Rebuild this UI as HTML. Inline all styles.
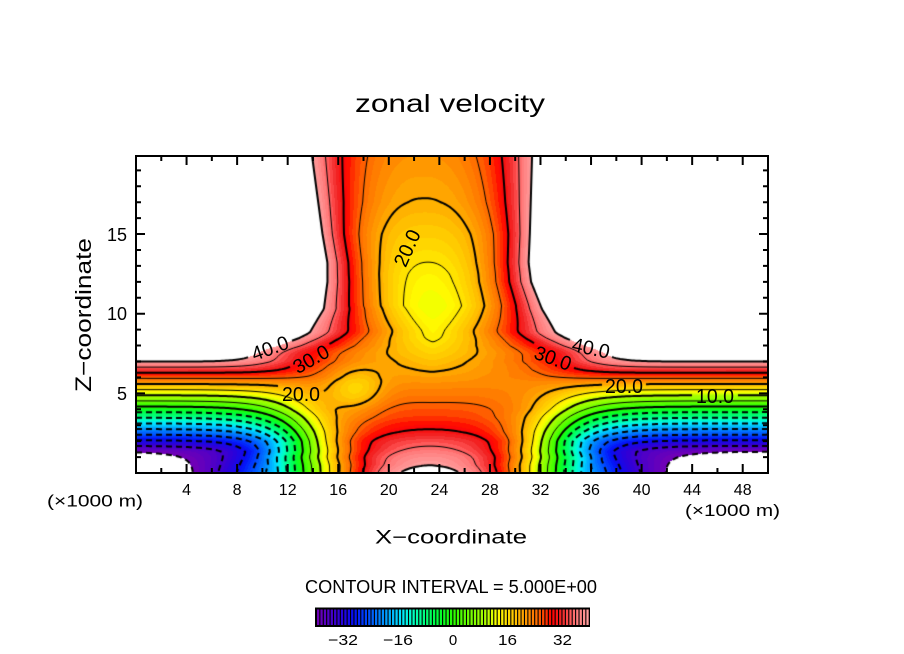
<!DOCTYPE html>
<html><head><meta charset="utf-8">
<style>
html,body{margin:0;padding:0;background:#fff;}
#wrap{position:relative;width:904px;height:654px;overflow:hidden;background:#fff;}
#c{position:absolute;left:136px;top:156px;}
#ov{position:absolute;left:0;top:0;}
text{font-family:"Liberation Sans",Arial,sans-serif;fill:#000;}
</style></head><body>
<div id="wrap">
<canvas id="c" width="632" height="317"></canvas>
<svg id="ov" width="904" height="654" xmlns="http://www.w3.org/2000/svg">
  <g id="cbar"></g>
  <rect x="136" y="156" width="632" height="317" fill="none" stroke="#000" stroke-width="2"/>
  <path id="ticks" d="" stroke="#000" stroke-width="2" fill="none"/>
  <g font-size="20">
    <text transform="translate(270,348) rotate(-20)" text-anchor="middle" dy="7" textLength="38" lengthAdjust="spacingAndGlyphs">40.0</text>
    <text transform="translate(311,359) rotate(-29)" text-anchor="middle" dy="7" textLength="38" lengthAdjust="spacingAndGlyphs">30.0</text>
    <text transform="translate(301,394)" text-anchor="middle" dy="7" textLength="38" lengthAdjust="spacingAndGlyphs">20.0</text>
    <text transform="translate(407,248) rotate(-66)" text-anchor="middle" dy="7" textLength="38" lengthAdjust="spacingAndGlyphs">20.0</text>
    <text transform="translate(553,358) rotate(20)" text-anchor="middle" dy="7" textLength="38" lengthAdjust="spacingAndGlyphs">30.0</text>
    <text transform="translate(591,348) rotate(12)" text-anchor="middle" dy="7" textLength="38" lengthAdjust="spacingAndGlyphs">40.0</text>
    <text transform="translate(624,386)" text-anchor="middle" dy="7" textLength="38" lengthAdjust="spacingAndGlyphs">20.0</text>
    <text transform="translate(715,396)" text-anchor="middle" dy="7" textLength="38" lengthAdjust="spacingAndGlyphs">10.0</text>
  </g>
  <text x="355" y="112" font-size="25" textLength="190" lengthAdjust="spacingAndGlyphs">zonal velocity</text>
  <g font-size="16" text-anchor="middle">
    <text x="186.6" y="495">4</text>
    <text x="237.1" y="495">8</text>
    <text x="287.7" y="495">12</text>
    <text x="338.2" y="495">16</text>
    <text x="388.8" y="495">20</text>
    <text x="439.4" y="495">24</text>
    <text x="489.9" y="495">28</text>
    <text x="540.5" y="495">32</text>
    <text x="591.0" y="495">36</text>
    <text x="641.6" y="495">40</text>
    <text x="692.2" y="495">44</text>
    <text x="742.7" y="495">48</text>
  </g>
  <g font-size="18" text-anchor="end">
    <text x="127" y="400">5</text>
    <text x="127" y="320">10</text>
    <text x="127" y="241">15</text>
  </g>
  <text x="47" y="506.5" font-size="17" textLength="96" lengthAdjust="spacingAndGlyphs">(×1000 m)</text>
  <text x="685" y="516" font-size="17" textLength="95" lengthAdjust="spacingAndGlyphs">(×1000 m)</text>
  <text x="375" y="543.5" font-size="19" textLength="152" lengthAdjust="spacingAndGlyphs">X−coordinate</text>
  <text transform="translate(91,392) rotate(-90)" font-size="22" textLength="154" lengthAdjust="spacingAndGlyphs">Z−coordinate</text>
  <text x="305" y="593" font-size="18" textLength="292" lengthAdjust="spacingAndGlyphs">CONTOUR INTERVAL = 5.000E+00</text>
  <g font-size="15" text-anchor="middle">
    <text x="343" y="645" textLength="30" lengthAdjust="spacingAndGlyphs">−32</text>
    <text x="398" y="645" textLength="30" lengthAdjust="spacingAndGlyphs">−16</text>
    <text x="453" y="645">0</text>
    <text x="507.5" y="645" textLength="19" lengthAdjust="spacingAndGlyphs">16</text>
    <text x="562.5" y="645" textLength="19" lengthAdjust="spacingAndGlyphs">32</text>
  </g>
</svg>
</div>
<script>
(function(){
const CM=[[-40,115,0,180],[-37,85,0,195],[-33,45,0,215],[-29,5,15,245],[-26,0,60,255],[-22,0,120,255],[-18,0,180,255],[-15,0,230,255],[-12,0,255,200],[-8,0,255,120],[-4,0,255,50],[0,40,255,0],[4,100,255,0],[10,180,255,0],[13,255,255,0],[16,255,220,0],[19,255,185,0],[22,255,145,0],[25,255,105,0],[27,255,60,0],[29,255,0,0],[32,240,40,40],[34,255,80,80],[36,255,120,120],[40,255,160,160]];
function cmap(v){
  if(v<=CM[0][0]) return [CM[0][1],CM[0][2],CM[0][3]];
  for(let k=1;k<CM.length;k++){ if(v<=CM[k][0]){ const a=CM[k-1],b=CM[k]; const f=(v-a[0])/(b[0]-a[0]);
    return [Math.round(a[1]+(b[1]-a[1])*f),Math.round(a[2]+(b[2]-a[2])*f),Math.round(a[3]+(b[3]-a[3])*f)]; } }
  const l=CM[CM.length-1]; return [l[1],l[2],l[3]];
}
const LUT=[]; for(let k=0;k<80;k++) LUT.push(cmap(-40+k+0.5));

const NS="http://www.w3.org/2000/svg";
const cb=document.getElementById('cbar');
function rect(x,y,w,h,f){const r=document.createElementNS(NS,'rect');r.setAttribute('x',x);r.setAttribute('y',y);r.setAttribute('width',w);r.setAttribute('height',h);r.setAttribute('fill',f);cb.appendChild(r);}
rect(315,607.5,275,19.5,'#000');
for(let k=0;k<80;k++){const c=LUT[k];rect(453+3.41*(k-40)+0.4,609.5,2.3,15.5,'rgb('+c[0]+','+c[1]+','+c[2]+')');}

let d='';
for(let k=2;k<=48;k+=2){const x=(136+12.64*k).toFixed(2);const L=(k%4===0)?9:5;d+='M'+x+' 473V'+(473-L)+'M'+x+' 156V'+(156+L);}
for(let z=1;z<=19;z++){const y=(473-15.93*z).toFixed(2);const L=(z%5===0)?9:5;d+='M136 '+y+'H'+(136+L)+'M768 '+y+'H'+(768-L);}
document.getElementById('ticks').setAttribute('d',d);

function lerpT(T,v){ if(v<=T[0][0]) return T[0][1]; for(let k=1;k<T.length;k++){ if(v<=T[k][0]){const a=T[k-1],b=T[k];return a[1]+(b[1]-a[1])*(v-a[0])/(b[0]-a[0]);} } return T[T.length-1][1]; }
const cminT=[[0,49],[0.5,44],[1,40.5],[1.5,37],[2.6,31],[3.5,27.5],[4.5,25],[5.5,22.5],[6.5,19.5],[7.5,16.8],[8.5,14.3],[10.5,12],[12.5,14],[14,16],[17,19.8],[20,22]];
const hwT=[[0,80],[5.5,80],[6,40],[6.5,26],[7,19],[7.5,16.5],[8,12.8],[8.5,10.8],[8.8,9.95],[10.3,8.7],[12,8.1],[13.2,8.0],[15,8.25],[20,8.8]];
const xcT=[[0,23.3],[8.8,23.5],[10.3,23.5],[12,23.2],[15,22.95],[20,22.6]];
const pT=[[0,1.3],[9,1.3],[10.5,1.7],[15,2.5],[20,2.5]];
const kT=[[0,0.19],[1,0.1],[2.6,0.05],[4,0],[20,0]];
const DT=[[0,11.7],[1,11.0],[2,10.3],[6,10.3],[7,13],[8,16],[20,16]];
const sT=[[0,3.5],[1,2.6],[2,1.9],[20,1.9]];
function Lz(z){ return z>=1.35 ? Math.min(40+14.16*(z-7),60) : -40-6*(1.35-z); }
const sig=t=>1/(1+Math.exp(-t));
function field(x,z,P){
  const dx=Math.abs(x-P.xc); const t=dx/P.hw;
  let C=P.cm+(40-P.cm)*Math.pow(t,P.p)-P.k*dx*dx;
  if(P.k>0 && C<20) C=20;
  const bx=(x-17.3)/2.2, bz=(z-5.2)/1.35;
  C+=-7*Math.exp(-bx*bx-bz*bz);
  const w=sig((x-(23.2-P.D))/P.s)*sig(((23.2+P.D)-x)/P.s);
  return w*C+(1-w)*P.L;
}
const W=632,H=317,ZR=19.9;
const F=new Float32Array((W+1)*(H+1));
for(let j=0;j<=H;j++){
  const z=(H-j)/H*ZR;
  const P={cm:lerpT(cminT,z),hw:lerpT(hwT,z),xc:lerpT(xcT,z),p:lerpT(pT,z),k:lerpT(kT,z),D:lerpT(DT,z),s:lerpT(sT,z),L:Lz(z)};
  for(let i=0;i<=W;i++) F[j*(W+1)+i]=field(i/W*50,z,P);
}
const cv=document.getElementById('c'); const ctx=cv.getContext('2d');
const img=ctx.createImageData(W,H); const dd=img.data;
for(let j=0;j<H;j++){ for(let i=0;i<W;i++){
  const u=(F[j*(W+1)+i]+F[j*(W+1)+i+1]+F[(j+1)*(W+1)+i]+F[(j+1)*(W+1)+i+1])/4;
  const o=(j*W+i)*4;
  if(u>40||u<-40){dd[o]=255;dd[o+1]=255;dd[o+2]=255;}
  else{ let k=Math.floor(u)+40; if(k>79)k=79; if(k<0)k=0; const c=LUT[k]; dd[o]=c[0];dd[o+1]=c[1];dd[o+2]=c[2]; }
  dd[o+3]=255;
}}
ctx.putImageData(img,0,0);

const LB=[[270,348,-20,40],[311,359,-29,30],[301,394,0,20],[407,248,-66,20],[553,358,20,30],[591,348,12,40],[624,386,0,20],[715,396,0,10]];
function inBox(px,py,lv){
  for(const b of LB){ if(b[3]!==lv) continue; const a=b[2]*Math.PI/180; const dx=px-(b[0]-136), dy=py-(b[1]-156);
    const lx=dx*Math.cos(a)+dy*Math.sin(a), ly=-dx*Math.sin(a)+dy*Math.cos(a);
    if(Math.abs(lx)<22&&Math.abs(ly)<10) return true; }
  return false;
}
const g=2, nx=Math.floor(W/g), ny=Math.floor(H/g);
function G(i,j){ return F[(j*g)*(W+1)+i*g]; }
ctx.strokeStyle='#000'; ctx.lineJoin='round'; ctx.lineCap='butt';
for(let lv=-40;lv<=40;lv+=5){
  const pts=new Map(), adj=new Map();
  const link=(a,b)=>{ if(!adj.has(a))adj.set(a,[]); if(!adj.has(b))adj.set(b,[]); adj.get(a).push(b); adj.get(b).push(a); };
  for(let j=0;j<ny;j++){ for(let i=0;i<nx;i++){
    const a=G(i,j),b=G(i+1,j),c=G(i+1,j+1),e=G(i,j+1);
    const ca=a>lv,cb2=b>lv,cc=c>lv,cd=e>lv;
    if(ca===cb2&&cb2===cc&&cc===cd) continue;
    let top=-1,right=-1,bot=-1,left=-1;
    if(ca!==cb2){ top=(j*(nx+1)+i)*2; if(!pts.has(top)) pts.set(top,[(i+(lv-a)/(b-a))*g,j*g]); }
    if(cb2!==cc){ right=(j*(nx+1)+i+1)*2+1; if(!pts.has(right)) pts.set(right,[(i+1)*g,(j+(lv-b)/(c-b))*g]); }
    if(cd!==cc){ bot=((j+1)*(nx+1)+i)*2; if(!pts.has(bot)) pts.set(bot,[(i+(lv-e)/(c-e))*g,(j+1)*g]); }
    if(ca!==cd){ left=(j*(nx+1)+i)*2+1; if(!pts.has(left)) pts.set(left,[i*g,(j+(lv-a)/(e-a))*g]); }
    const list=[top,right,bot,left].filter(v=>v>=0);
    if(list.length===2) link(list[0],list[1]);
    else if(list.length===4){ const center=(a+b+c+e)/4>lv;
      if(center===ca){link(top,right);link(bot,left);} else {link(top,left);link(right,bot);} }
  }}
  const starts=[...adj.keys()].sort((p,q)=>adj.get(p).length-adj.get(q).length);
  const paths=[];
  for(const k0 of starts){
    while(adj.get(k0).length){
      const path=[k0]; let cur=k0;
      while(adj.get(cur).length){ const nxt=adj.get(cur).pop(); const l=adj.get(nxt); const ix=l.indexOf(cur); if(ix>=0)l.splice(ix,1); path.push(nxt); cur=nxt; }
      paths.push(path);
    }
  }
  ctx.setLineDash(lv<0?[6,4]:[]);
  ctx.lineWidth = lv<0 ? 2 : (lv%10===0 ? 2 : 1);
  ctx.beginPath();
  for(const path of paths){
    let pen=false;
    for(const k of path){ const p=pts.get(k);
      if(inBox(p[0],p[1],lv)){pen=false;continue;}
      if(!pen){ctx.moveTo(p[0],p[1]);pen=true;} else ctx.lineTo(p[0],p[1]); }
  }
  ctx.stroke();
}
})();
</script>
</body></html>
